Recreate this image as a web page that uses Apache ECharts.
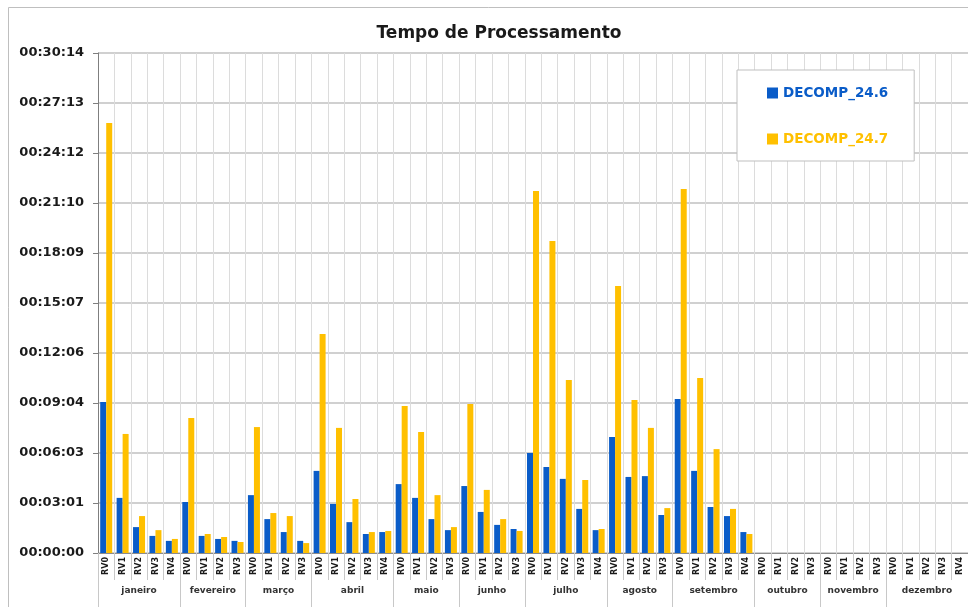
<!DOCTYPE html>
<html>
<head>
<meta charset="utf-8">
<script src="https://cdn.jsdelivr.net/npm/echarts@6/dist/echarts.min.js"></script>
<style>
html,body{margin:0;padding:0;background:#fff;}
#chart{width:968px;height:607px;}
</style>
</head>
<body>
<div id="chart"></div>
<script>
// ---- data ----
var months = ['janeiro','fevereiro','março','abril','maio','junho','julho','agosto','setembro','outubro','novembro','dezembro'];
var rvCounts = [5,4,4,5,4,4,5,4,5,4,4,5];
// processing time in seconds
var decomp246 = [548,200,94,62,44, 185,62,51,44, 210,123,76,44, 298,178,112,69,76, 250,200,123,83, 243,149,102,87, 363,312,269,160,83, 421,276,279,138, 559,298,167,134,76, null,null,null,null, null,null,null,null, null,null,null,null,null];
var decomp247 = [1560,432,134,83,51, 490,69,58,40, 457,145,134,36, 795,454,196,76,80, 533,439,210,94, 541,229,123,80, 1314,1132,628,265,87, 969,555,454,163, 1321,635,377,160,69, null,null,null,null, null,null,null,null, null,null,null,null,null];
var yStep = 181.44;   // 0.0021 day
var yMax = 10 * yStep;

// ---- derived ----
var categories = [];
var boundaries = [0];
var centers = [];
var pos = 0;
months.forEach(function(m, i){
  for (var k = 0; k < rvCounts[i]; k++) categories.push('RV' + k);
  centers.push(pos + rvCounts[i] / 2);
  pos += rvCounts[i];
  boundaries.push(pos);
});

function fmt(v){
  var s = Math.round(v);
  var h = Math.floor(s / 3600), m = Math.floor((s % 3600) / 60), sec = s % 60;
  function p(n){ return (n < 10 ? '0' : '') + n; }
  return p(h) + ':' + p(m) + ':' + p(sec);
}

var FONT = 'DejaVu Sans';
var chart = echarts.init(document.getElementById('chart'));
chart.setOption({
  animation: false,
  backgroundColor: '#fff',
  textStyle: { fontFamily: FONT },
  graphic: [{
    type: 'rect', silent: true, z: -10,
    shape: { x: 8.5, y: 7.5, width: 1000, height: 700 },
    style: { fill: 'none', stroke: '#bfbfbf', lineWidth: 1 }
  }],
  title: {
    text: 'Tempo de Processamento',
    left: 494, top: 20, textAlign: 'center',
    textStyle: { fontFamily: FONT, fontSize: 17, fontWeight: 'bold', color: '#1a1a1a' }
  },
  legend: {
    orient: 'vertical',
    left: 737, top: 70,
    padding: [16, 26, 15, 30],
    itemGap: 32,
    itemWidth: 11, itemHeight: 11,
    icon: 'rect',
    backgroundColor: '#fff',
    borderColor: '#bfbfbf', borderWidth: 1,
    textStyle: { fontFamily: FONT, fontSize: 13.5, fontWeight: 'bold' },
    data: [
      { name: 'DECOMP_24.6', textStyle: { color: '#0a5cc8' } },
      { name: 'DECOMP_24.7', textStyle: { color: '#ffc000' } }
    ]
  },
  grid: { left: 98, top: 53, width: 878, bottom: 54, containLabel: false },
  xAxis: [{
    type: 'category',
    data: categories,
    position: 'bottom',
    axisLine: { lineStyle: { color: '#8c8c8c', width: 1 } },
    axisTick: { show: true, length: 27, lineStyle: { color: '#c8c8c8' } },
    splitLine: { show: true, lineStyle: { color: '#dcdcdc', width: 1 } },
    axisLabel: { interval: 0, rotate: 90, margin: 4, fontFamily: FONT, fontSize: 8, fontWeight: 'bold', color: '#1a1a1a' }
  }, {
    type: 'value',
    min: 0, max: categories.length,
    position: 'bottom',
    axisLine: { show: false },
    splitLine: { show: false },
    axisTick: { show: true, length: 54, customValues: boundaries, lineStyle: { color: '#c8c8c8' } },
    axisLabel: {
      customValues: centers, margin: 33,
      fontFamily: FONT, fontSize: 9, fontWeight: 'bold', color: '#333',
      formatter: function(v){
        for (var i = 0; i < centers.length; i++) if (Math.abs(centers[i] - v) < 1e-6) return months[i];
        return '';
      }
    }
  }],
  yAxis: {
    type: 'value',
    min: 0, max: yMax, interval: yStep,
    axisLine: { show: true, lineStyle: { color: '#7f7f7f' } },
    axisTick: { show: true, length: 5, lineStyle: { color: '#7f7f7f' } },
    splitLine: { show: true, lineStyle: { color: '#c0c0c0', width: 1.5 } },
    axisLabel: { margin: 14, fontFamily: FONT, fontSize: 13, fontWeight: 'bold', color: '#1a1a1a', formatter: fmt }
  },
  series: [{
    name: 'DECOMP_24.6', type: 'bar', data: decomp246,
    barWidth: 6, barGap: '0%',
    itemStyle: { color: '#0a5cc8' }
  }, {
    name: 'DECOMP_24.7', type: 'bar', data: decomp247,
    barWidth: 6, barGap: '0%',
    itemStyle: { color: '#ffc000' }
  }]
});
</script>
</body>
</html>
